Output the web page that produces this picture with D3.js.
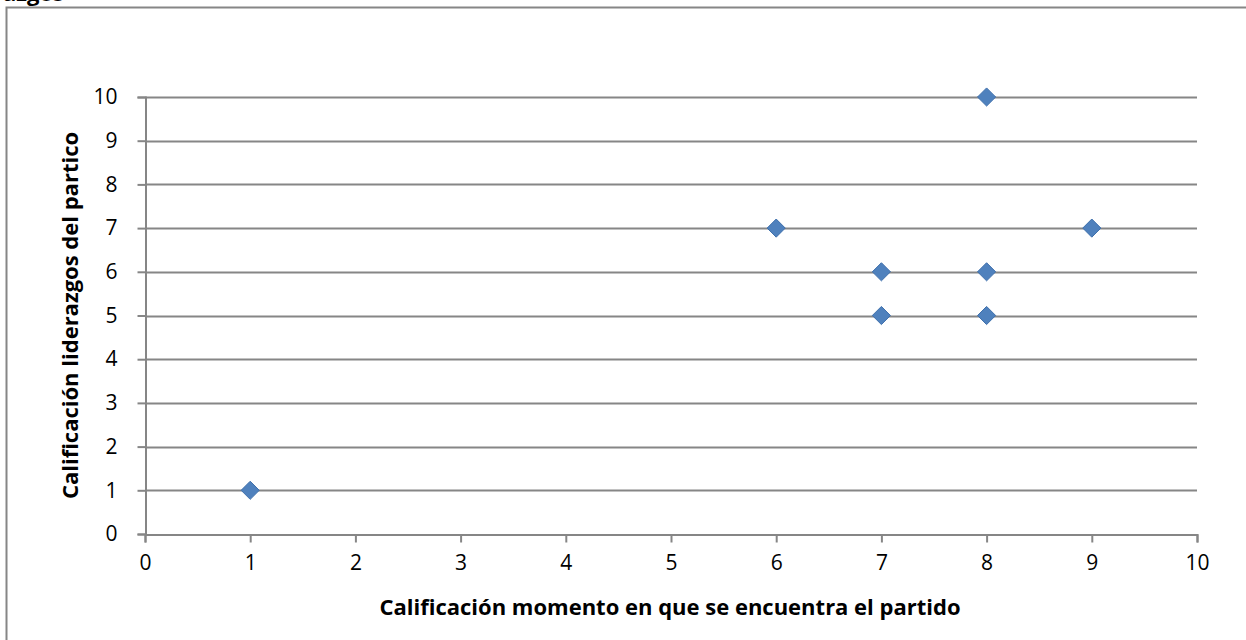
<!DOCTYPE html>
<html>
<head>
<meta charset="utf-8">
<script src="https://cdn.jsdelivr.net/npm/d3@7"></script>
<style>
  body { margin: 0; background: #fff; }
  svg { display: block; font-family: "Open Sans", sans-serif; }
</style>
</head>
<body>
<svg id="chart" width="1246" height="640"></svg>
<script>
// values
var xValues = [1, 6, 7, 7, 8, 8, 8, 9];
var yValues = [1, 7, 6, 5, 10, 6, 5, 7];
var xTicks = [0, 1, 2, 3, 4, 5, 6, 7, 8, 9, 10];
var yTicks = [0, 1, 2, 3, 4, 5, 6, 7, 8, 9, 10];
var xTitle = 'Calificación momento en que se encuentra el partido';
var yTitle = 'Calificación liderazgos del partico';
var cutTitle = 'liderazgos';

var svg = d3.select('#chart');
var grey = '#868686';
var font = '"Open Sans", sans-serif';

var x = d3.scaleLinear().domain([0, 10]).range([145, 1197]);
var y = d3.scaleLinear().domain([0, 10]).range([534, 97]);

// chart border, runs off the top / right / bottom
svg.append('rect')
  .attr('x', 6.5).attr('y', 7.5)
  .attr('width', 1300).attr('height', 700)
  .attr('fill', 'none')
  .attr('stroke', grey)
  .attr('stroke-width', 2);

// leftover of a title clipped by the top edge
svg.append('text')
  .attr('x', 64).attr('y', 1)
  .attr('text-anchor', 'end')
  .attr('font-size', 22)
  .attr('font-weight', 'bold')
  .text(cutTitle);

// horizontal gridlines
svg.append('g')
  .selectAll('line')
  .data(yTicks.filter(d => d > 0))
  .enter().append('line')
    .attr('x1', x(0)).attr('x2', x(10))
    .attr('y1', d => Math.round(y(d)) + 0.5)
    .attr('y2', d => Math.round(y(d)) + 0.5)
    .attr('stroke', grey)
    .attr('stroke-width', 2);

var yAxis = svg.append('g')
  .attr('transform', 'translate(' + (x(0) + 0.5) + ',0)')
  .call(d3.axisLeft(y).tickValues(yTicks).tickSize(8).tickPadding(20));

var xAxis = svg.append('g')
  .attr('transform', 'translate(0,' + (y(0) + 0.5) + ')')
  .call(d3.axisBottom(x).tickValues(xTicks).tickSize(8).tickPadding(13));

[xAxis, yAxis].forEach(a => {
  a.select('.domain').attr('stroke', grey).attr('stroke-width', 2);
  a.selectAll('.tick line').attr('stroke', grey).attr('stroke-width', 2);
  a.selectAll('.tick text')
    .attr('fill', '#000')
    .attr('font-size', 21)
    .attr('font-family', font);
});

// the points
var diamond = d3.symbol().type(d3.symbolDiamond2).size(210);
svg.append('g')
  .selectAll('path')
  .data(xValues.map((v, i) => ({ x: v, y: yValues[i] })))
  .enter().append('path')
    .attr('transform', d => 'translate(' + x(d.x) + ',' + y(d.y) + ')')
    .attr('d', diamond)
    .attr('fill', '#4f81bd')
    .attr('stroke', '#3f70ac')
    .attr('stroke-width', 1);

svg.append('text')
  .attr('x', 670)
  .attr('y', 615)
  .attr('text-anchor', 'middle')
  .attr('font-size', 22)
  .attr('font-weight', 'bold')
  .text(xTitle);

svg.append('text')
  .attr('transform', 'translate(78,' + ((y(0) + y(10)) / 2) + ') rotate(-90)')
  .attr('text-anchor', 'middle')
  .attr('font-size', 22)
  .attr('font-weight', 'bold')
  .text(yTitle);
</script>
</body>
</html>
